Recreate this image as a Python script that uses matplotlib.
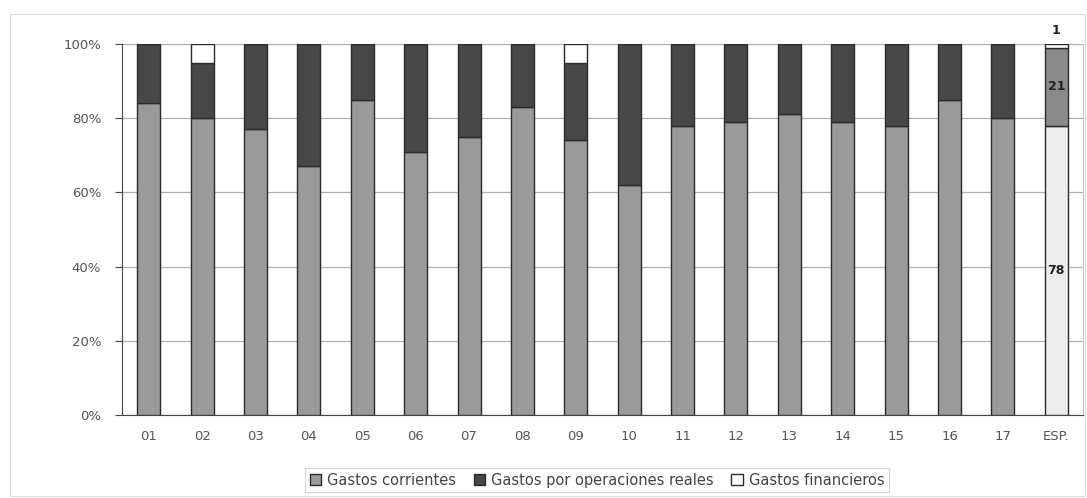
import matplotlib
matplotlib.use("Agg")
import matplotlib.pyplot as plt
from matplotlib.patches import Rectangle, Patch
import numpy as np

categories = ["01", "02", "03", "04", "05", "06", "07", "08", "09", "10",
              "11", "12", "13", "14", "15", "16", "17", "ESP."]
corrientes = [84, 80, 77, 67, 85, 71, 75, 83, 74, 62, 78, 79, 81, 79, 78, 85, 80, 78]
financieros = [0, 5, 0, 0, 0, 0, 0, 0, 5, 0, 0, 0, 0, 0, 0, 0, 0, 1]
reales = [100 - c - f for c, f in zip(corrientes, financieros)]
esp_labels = ["78", "21", "1"]

plt.rcParams['font.family'] = ['DejaVu Sans']

fig = plt.figure(figsize=(10.87, 4.98), dpi=100)
ax = fig.add_axes([122/1087, 1 - 415/498, (1083-122)/1087, (415-44)/498])

x = np.arange(len(categories))
w = 0.43
c_gray = ['#9a9a9a'] * (len(categories) - 1) + ['#ececec']
c_dark = ['#484848'] * (len(categories) - 1) + ['#8a8a8a']
edge = '#2a2a2a'

ax.bar(x, corrientes, w, color=c_gray, edgecolor=edge, linewidth=1.0, zorder=3)
ax.bar(x, reales, w, bottom=corrientes, color=c_dark, edgecolor=edge, linewidth=1.0, zorder=3)
bot2 = [c + r for c, r in zip(corrientes, reales)]
ax.bar(x, financieros, w, bottom=bot2, color='white', edgecolor=edge, linewidth=1.0, zorder=3)

i = len(categories) - 1
ax.text(x[i], corrientes[i] / 2, esp_labels[0], ha='center', va='center',
        fontsize=9, fontweight='bold', color='#222222', zorder=4)
ax.text(x[i], corrientes[i] + reales[i] / 2, esp_labels[1], ha='center', va='center',
        fontsize=9, fontweight='bold', color='#222222', zorder=4)
ax.text(x[i], 102.0, esp_labels[2], ha='center', va='bottom',
        fontsize=9, fontweight='bold', color='#222222', zorder=4, clip_on=False)

ax.set_xlim(-0.5, len(categories) - 0.5)
ax.set_ylim(0, 100)
ax.set_yticks(range(0, 101, 20))
ax.set_yticklabels([f"{v}%" for v in range(0, 101, 20)])
ax.set_xticks(x)
ax.set_xticklabels(categories)
ax.tick_params(axis='y', length=5, color='#444444', labelsize=9.5, labelcolor='#555555', pad=10)
ax.tick_params(axis='x', length=0, labelsize=9.5, labelcolor='#555555', pad=11)
ax.yaxis.grid(True, color='#b0b0b0', linewidth=0.9, zorder=0)
ax.set_axisbelow(True)
ax.spines['top'].set_visible(False)
ax.spines['right'].set_color('#c8c8c8')
ax.spines['left'].set_color('#444444')
ax.spines['bottom'].set_color('#444444')

handles = [Patch(facecolor='#9a9a9a', edgecolor=edge, label='Gastos corrientes'),
           Patch(facecolor='#484848', edgecolor=edge, label='Gastos por operaciones reales'),
           Patch(facecolor='white', edgecolor=edge, label='Gastos financieros')]
leg = fig.legend(handles=handles, loc='center', bbox_to_anchor=(597/1087, 1 - 480/498),
                 ncol=3, frameon=True, fancybox=False, fontsize=10.5,
                 handlelength=0.8, handleheight=0.8, handletextpad=0.4,
                 columnspacing=1.2, borderpad=0.3)
leg.get_frame().set_edgecolor('#c8c8c8')
leg.get_frame().set_linewidth(0.8)
for t in leg.get_texts():
    t.set_color('#444444')

fig.patches.append(Rectangle((10/1087, 2/498), 1 - 12/1087, 1 - 16/498,
                             transform=fig.transFigure, fill=False,
                             edgecolor='#dcdcdc', linewidth=0.8))

fig.savefig("out.png", dpi=100)
